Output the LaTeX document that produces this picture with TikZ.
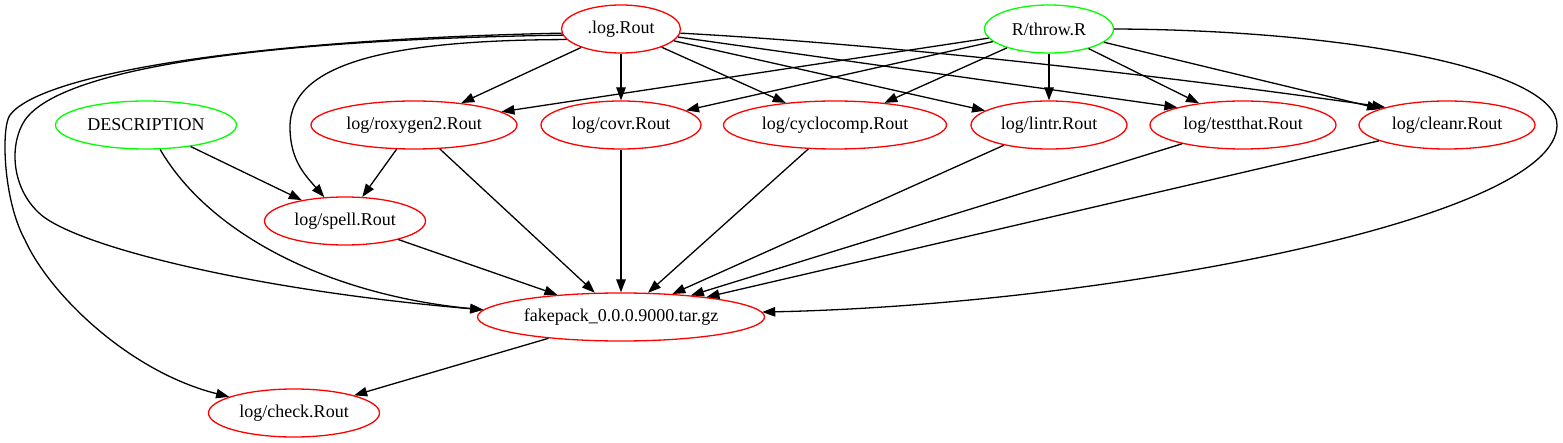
\documentclass[tikz,border=0pt]{standalone}
\usepackage{fontspec}
\setmainfont{Liberation Serif}
\newfontfamily\gvfont{Liberation Serif}
\usetikzlibrary{shapes.geometric, arrows.meta}
\definecolor{gvred}{RGB}{255,0,0}
\definecolor{gvgreen}{RGB}{0,255,0}
\tikzset{
  job/.style={ellipse, draw=gvred, line width=1.3pt, minimum height=48pt, inner sep=0pt,
    font=\gvfont\fontsize{18}{20}\selectfont},
  src/.style={job, draw=gvgreen},
  dep/.style={-{Triangle[length=13pt,width=9.5pt]}, line width=1.3pt}
}

\begin{document}
\begin{tikzpicture}[x=1pt, y=-1pt]
\useasboundingbox (0,0) rectangle (1563,443);
\node[job, minimum width=119pt] (log) at (621,29) {.log.Rout};
\node[src, minimum width=129pt] (throw) at (1049,29) {R/throw.R};
\node[src, minimum width=181pt] (desc) at (146,125) {DESCRIPTION};
\node[job, minimum width=206pt] (rox) at (414,125) {log/roxygen2.Rout};
\node[job, minimum width=160pt] (covr) at (621,125) {log/covr.Rout};
\node[job, minimum width=223pt] (cyclo) at (835,125) {log/cyclocomp.Rout};
\node[job, minimum width=156pt] (lintr) at (1049,125) {log/lintr.Rout};
\node[job, minimum width=186pt] (testthat) at (1243,125) {log/testthat.Rout};
\node[job, minimum width=176pt] (cleanr) at (1447,125) {log/cleanr.Rout};
\node[job, minimum width=161pt] (spell) at (345,221) {log/spell.Rout};
\node[job, minimum width=287pt] (pkg) at (621,317) {fakepack\_0.0.0.9000.tar.gz};
\node[job, minimum width=171pt] (check) at (294,413) {log/check.Rout};

\foreach \a/\b in {log/rox, log/covr, log/cyclo, log/lintr,
    throw/rox, throw/covr, throw/cyclo, throw/lintr, throw/testthat, throw/cleanr,
    desc/spell, rox/spell, rox/pkg, covr/pkg, cyclo/pkg, lintr/pkg,
    testthat/pkg, cleanr/pkg, spell/pkg, pkg/check}
  \draw[dep] (\a) -- (\b);
\draw[dep] (log) -- (testthat.165);
\draw[dep] (log.-4) .. controls (900,45) and (1180,78) .. (cleanr.164);
\draw[dep] (log.191) .. controls (400,40) and (290,60) .. (290,127)
    .. controls (290,160) and (305,175) .. (spell);
\draw[dep] (log.186) .. controls (250,40) and (60,70) .. (25,120)
    .. controls (10,142) and (10,185) .. (38,212)
    .. controls (70,245) and (250,290) .. (pkg.177);
\draw[dep] (log.184) .. controls (240,40) and (40,75) .. (10,115)
    .. controls (1,127) and (3,200) .. (25,240)
    .. controls (50,295) and (130,372) .. (check);
\draw[dep] (desc.300) .. controls (210,235) and (330,295) .. (pkg.177);
\draw[dep] (throw.east) .. controls (1350,30) and (1557,70) .. (1557,125)
    .. controls (1557,220) and (1100,305) .. (pkg.2);
\end{tikzpicture}
\end{document}
